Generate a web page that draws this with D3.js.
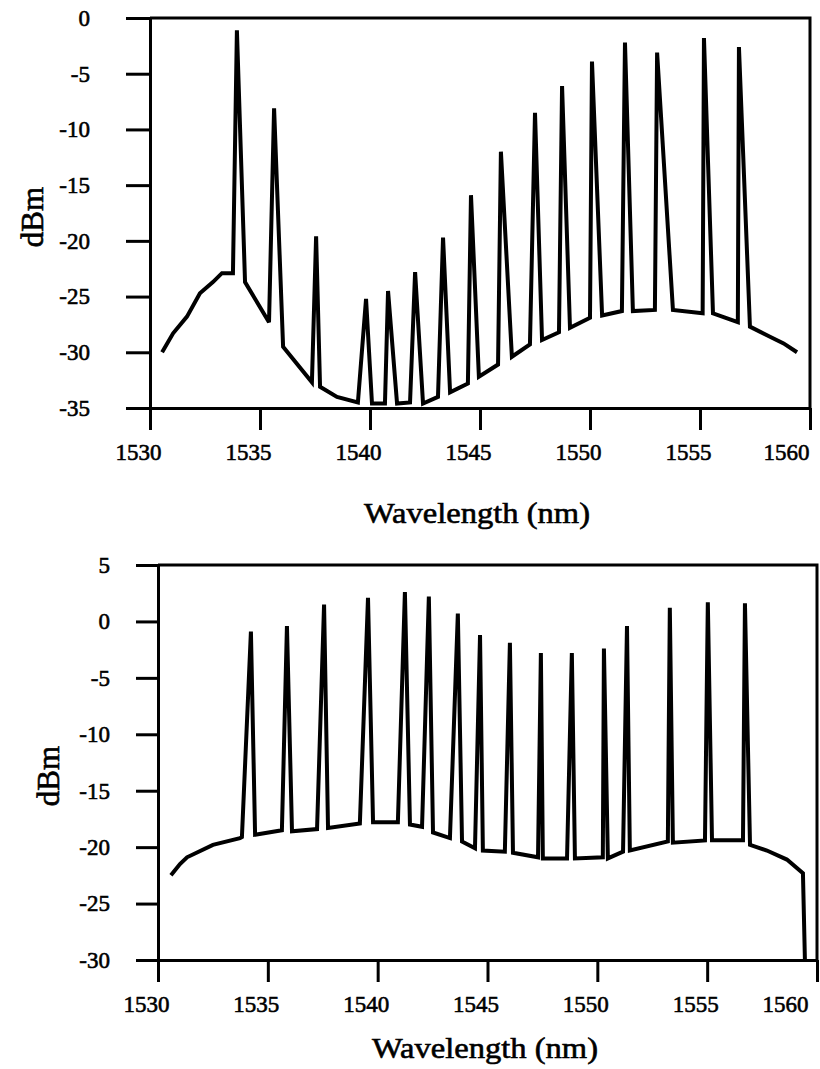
<!DOCTYPE html>
<html>
<head>
<meta charset="utf-8">
<script src="https://cdn.jsdelivr.net/npm/d3@7"></script>
<style>
  body { margin: 0; background: #fff; }
  text { font-family: "Liberation Serif", "Times New Roman", serif; fill: #000; }
</style>
</head>
<body>
<svg width="820" height="1069"></svg>
<script>
let wavelengthTicks = [1530, 1535, 1540, 1545, 1550, 1555, 1560];
let topPowerTicks = [0, -5, -10, -15, -20, -25, -30, -35];
let bottomPowerTicks = [5, 0, -5, -10, -15, -20, -25, -30];

// trace before flattening: ASE floor + 16 channels
let topWavelength = [
    1530.55, 1531.05, 1531.68, 1532.27, 1532.86, 1533.27, 1533.77,
    1533.95, 1534.32, 1535.41,
    1535.64, 1536.05, 1537.36,
    1537.55, 1537.73, 1538.50, 1539.45,
    1539.82, 1540.09, 1540.68,
    1540.82, 1541.23, 1541.82,
    1542.05, 1542.41, 1543.09,
    1543.32, 1543.64, 1544.45,
    1544.59, 1544.95, 1545.82,
    1545.95, 1546.45, 1547.27,
    1547.50, 1547.82, 1548.59,
    1548.73, 1549.09, 1550.00,
    1550.09, 1550.55, 1551.45,
    1551.59, 1551.95, 1552.95,
    1553.05, 1553.77, 1555.12,
    1555.18, 1555.59, 1556.72,
    1556.77, 1557.27, 1558.18, 1558.80, 1559.41
];
let topPower = [
    -30.0, -28.3, -26.8, -24.7, -23.7, -22.9, -22.9,
    -1.1, -23.7, -27.3,
    -8.1, -29.5, -32.7,
    -19.6, -33.1, -34.0, -34.5,
    -25.2, -34.6, -34.6,
    -24.5, -34.6, -34.5,
    -22.8, -34.6, -34.0,
    -19.7, -33.6, -32.8,
    -15.9, -32.2, -31.1,
    -12.0, -30.4, -29.3,
    -8.5, -28.9, -28.2,
    -6.1, -27.8, -26.9,
    -3.9, -26.7, -26.3,
    -2.2, -26.3, -26.2,
    -3.1, -26.2, -26.5,
    -1.8, -26.5, -27.3,
    -2.6, -27.7, -28.6, -29.2, -30.0
];

// trace after flattening
let bottomWavelength = [
    1530.59, 1531.00, 1531.32, 1532.50, 1533.73, 1533.82,
    1534.23, 1534.42, 1535.64,
    1535.87, 1536.10, 1537.24,
    1537.56, 1537.74, 1539.19,
    1539.56, 1539.79, 1540.92,
    1541.24, 1541.47, 1542.02,
    1542.33, 1542.52, 1543.29,
    1543.65, 1543.84, 1544.43,
    1544.66, 1544.79, 1545.79,
    1546.02, 1546.16, 1547.30,
    1547.43, 1547.52, 1548.62,
    1548.84, 1548.98, 1550.25,
    1550.30, 1550.48, 1551.17,
    1551.35, 1551.48, 1553.21,
    1553.30, 1553.44, 1554.90,
    1555.03, 1555.22, 1556.63,
    1556.72, 1556.95, 1557.72, 1558.63, 1559.36, 1559.45
];
let bottomPower = [
    -22.5, -21.5, -20.9, -19.8, -19.2, -19.1,
    -0.9, -18.9, -18.5,
    -0.4, -18.6, -18.4,
    1.5, -18.3, -17.9,
    2.1, -17.8, -17.8,
    2.6, -18.0, -18.2,
    2.2, -18.7, -19.2,
    0.7, -19.5, -20.1,
    -1.2, -20.3, -20.4,
    -1.9, -20.5, -20.9,
    -2.8, -21.0, -21.0,
    -2.8, -21.0, -20.9,
    -2.4, -21.0, -20.4,
    -0.4, -20.3, -19.5,
    1.2, -19.6, -19.4,
    1.7, -19.4, -19.4,
    1.6, -19.8, -20.3, -21.1, -22.3, -30.0
];

let svg = d3.select("svg");

function drawPanel(p) {
    let x = d3.scaleLinear().domain([1530, 1560]).range([p.left, p.right]);
    let y = d3.scaleLinear().domain([p.yTicks[0], p.yTicks[p.yTicks.length - 1]]).range([p.top, p.bottom]);
    let g = svg.append("g");

    // frame top + right
    g.append("path")
        .attr("d", "M" + p.left + "," + p.top + "H" + p.right + "V" + p.bottom)
        .attr("fill", "none")
        .attr("stroke", "#000")
        .attr("stroke-width", 3);

    let xAxis = g.append("g")
        .attr("transform", "translate(0," + p.bottom + ")")
        .call(d3.axisBottom(x).tickValues(wavelengthTicks).tickFormat(function(d) { return String(d); })
            .tickSize(22).tickSizeOuter(0).tickPadding(14));
    let yAxis = g.append("g")
        .attr("transform", "translate(" + p.left + ",0)")
        .call(d3.axisLeft(y).tickValues(p.yTicks).tickFormat(function(d) { return String(d); })
            .tickSize(p.yTickSize).tickSizeOuter(0).tickPadding(p.yPad));

    [xAxis, yAxis].forEach(function(a) {
        a.attr("font-family", null);
        a.selectAll("path, line").attr("stroke", "#000").attr("stroke-width", 3);
        a.selectAll("text")
            .attr("font-size", 23)
            .attr("stroke", "#000")
            .attr("stroke-width", 0.6);
    });
    // wavelength labels sit a little left of their ticks, the last one ends at the frame
    xAxis.selectAll("text")
        .attr("dx", function(d, i) { return i == wavelengthTicks.length - 1 ? -p.lastShift : -12; });

    let pts = d3.zip(p.wavelength, p.power);
    let line = d3.line()
        .x(function(d) { return x(d[0]); })
        .y(function(d) { return y(d[1]); });
    g.append("path")
        .datum(pts)
        .attr("d", line)
        .attr("fill", "none")
        .attr("stroke", "#000")
        .attr("stroke-width", 4)
        .attr("stroke-linejoin", "miter")
        .attr("stroke-miterlimit", 3);

    g.append("text")
        .attr("x", p.titleX)
        .attr("y", p.titleY)
        .attr("text-anchor", "middle")
        .attr("font-size", 30)
        .attr("stroke", "#000")
        .attr("stroke-width", 0.6)
        .attr("textLength", 226)
        .attr("lengthAdjust", "spacingAndGlyphs")
        .text("Wavelength (nm)");

    g.append("text")
        .attr("transform", "translate(" + p.dbmX + "," + p.dbmY + ") rotate(-90)")
        .attr("text-anchor", "middle")
        .attr("dy", "0.35em")
        .attr("font-size", 31)
        .attr("stroke", "#000")
        .attr("stroke-width", 0.6)
        .text("dBm");
}

drawPanel({
    left: 150, right: 810, top: 18, bottom: 408,
    yTicks: topPowerTicks, yTickSize: 24, yPad: 36, lastShift: 24,
    wavelength: topWavelength, power: topPower,
    titleX: 477, titleY: 523, dbmX: 32, dbmY: 217
});

drawPanel({
    left: 158, right: 817, top: 565, bottom: 960,
    yTicks: bottomPowerTicks, yTickSize: 22, yPad: 26, lastShift: 32,
    wavelength: bottomWavelength, power: bottomPower,
    titleX: 485, titleY: 1058, dbmX: 48, dbmY: 776
});
</script>
</body>
</html>
